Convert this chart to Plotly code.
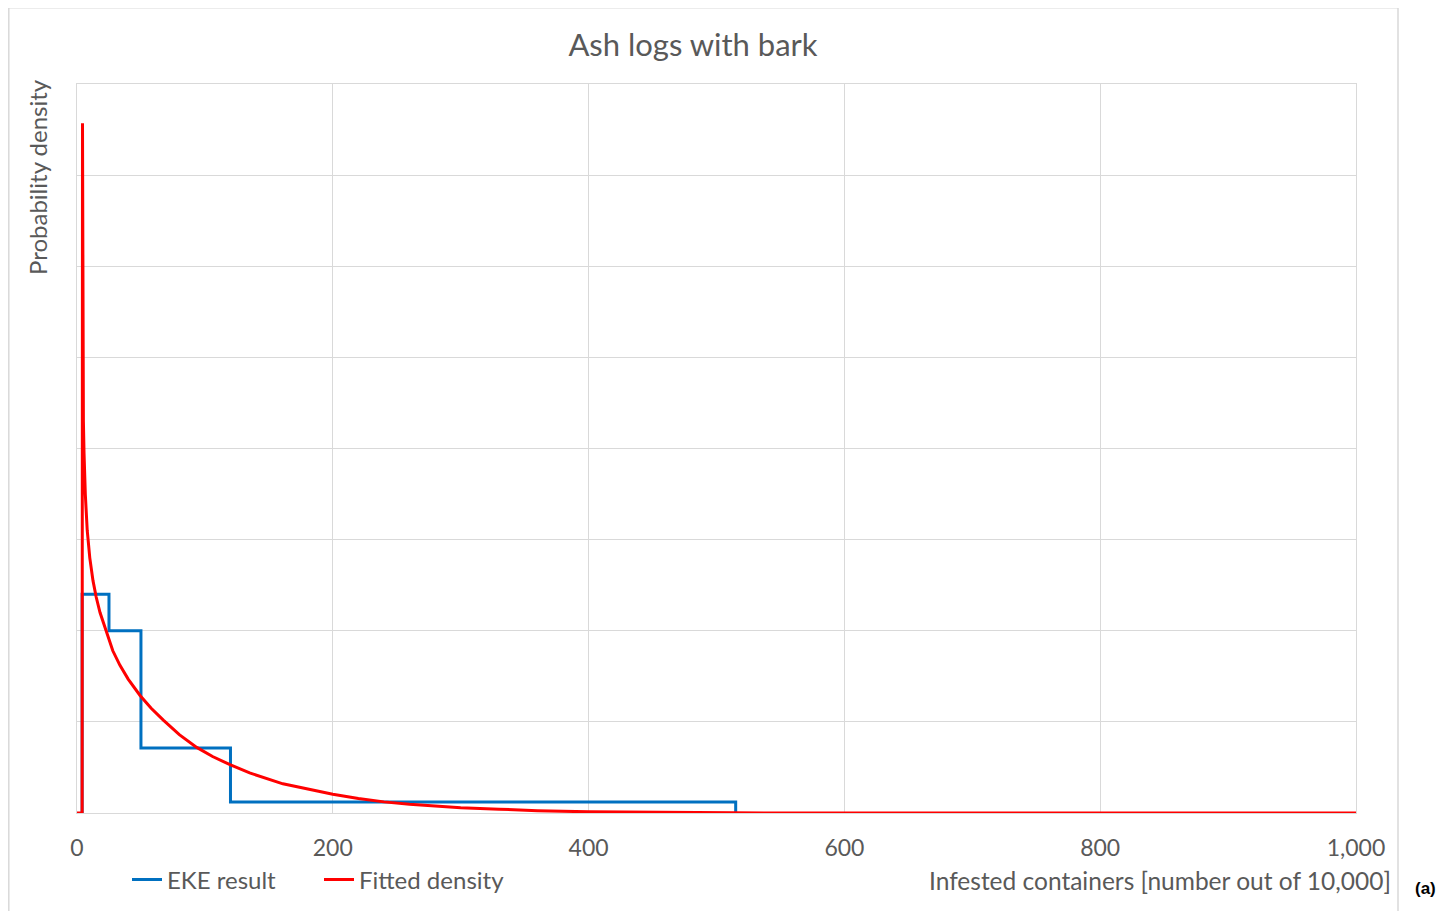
import plotly.graph_objects as go

# EKE result (step density from quartiles)
eke_x = [4, 4, 25, 25, 50, 50, 120, 120, 515, 515]
eke_y = [0, 2.40, 2.40, 2.00, 2.00, 0.713, 0.713, 0.121, 0.121, 0]

# Fitted density
fit_x = [0, 4.0, 4.3, 4.5, 4.7, 5.0, 5.5, 6.5, 8, 10, 12.5, 15, 18, 23, 28, 33.6, 40, 49.3,
         58, 67.5, 80, 93.6, 106, 119.6, 135, 161, 180, 200, 220, 240, 260, 280, 300, 330,
         360, 400, 450, 513, 560, 1000]
fit_y = [0, 0, 7.57, 6.0, 4.8, 4.3, 3.95, 3.5, 3.1, 2.8, 2.55, 2.37, 2.2, 1.98, 1.78, 1.62,
         1.47, 1.29, 1.15, 1.02, 0.86, 0.72, 0.62, 0.53, 0.44, 0.32, 0.26, 0.205, 0.16, 0.122,
         0.095, 0.075, 0.058, 0.042, 0.025, 0.013, 0.006, 0.002, 0.0, 0.0]

title_text = "Ash logs with bark"
x_title = "Infested containers [number out of 10,000]"
y_title = "Probability density"

OFF = 8  # page body margin
W, H = 1444 - OFF, 911 - OFF
# plot area in page pixels
L, R, T, B = 77, 1356, 84, 813
pw, ph = R - L, B - T

def px(xp):
    return (xp - L) / pw

def py(yp):
    return (B - yp) / ph

FONT = "Lato"
GRAY = "#595959"
GRID = "#D9D9D9"

fig = go.Figure()
fig.add_trace(go.Scatter(x=eke_x, y=eke_y, mode="lines", name="EKE result",
                         line=dict(color="#0070C0", width=3)))
fig.add_trace(go.Scatter(x=fit_x, y=fit_y, mode="lines", name="Fitted density",
                         line=dict(color="#FF0000", width=3)))

fig.update_layout(
    width=W, height=H,
    margin=dict(l=L - OFF, r=W - (R - OFF), t=T - OFF, b=H - (B - OFF), autoexpand=False),
    paper_bgcolor="white", plot_bgcolor="white",
    font=dict(family=FONT, color=GRAY, size=23),
    title=dict(text=title_text, xref="container", x=(693 - OFF) / W, xanchor="center",
               yref="container", y=1 - (45 - OFF) / H,
               yanchor="middle", font=dict(family=FONT, size=31, color=GRAY)),
    showlegend=True,
    legend=dict(orientation="h", x=px(127), xanchor="left", y=py(880), yanchor="middle",
                font=dict(family=FONT, size=24, color=GRAY), bgcolor="rgba(0,0,0,0)",
                entrywidth=147, entrywidthmode="pixels", tracegroupgap=0),
    xaxis=dict(range=[0, 1000], dtick=200, tickformat=",", showgrid=True, gridcolor=GRID,
               gridwidth=1, zeroline=False, showline=True, linecolor=GRID, mirror=True,
               ticks="", ticklabelstandoff=14,
               tickfont=dict(family=FONT, size=23, color=GRAY)),
    yaxis=dict(range=[0, 8], dtick=1, showgrid=True, gridcolor=GRID, gridwidth=1,
               zeroline=False, showline=True, linecolor=GRID, mirror=True,
               showticklabels=False, ticks=""),
    shapes=[dict(type="rect", xref="paper", yref="paper",
                 x0=px(8.8), x1=px(1398), y0=py(915), y1=py(7.8),
                 line=dict(color=GRID, width=1.5), fillcolor="rgba(0,0,0,0)", layer="below")],
    annotations=[
        dict(text=x_title, xref="paper", yref="paper", x=px(1393), xanchor="right",
             y=py(880), yanchor="middle", showarrow=False,
             font=dict(family=FONT, size=24.5, color=GRAY)),
        dict(text=y_title, xref="paper", yref="paper", x=px(37), xanchor="center",
             y=py(77), yanchor="top", showarrow=False, textangle=-90,
             font=dict(family=FONT, size=24, color=GRAY)),
        dict(text="<b>(a)</b>", xref="paper", yref="paper", x=px(1426), xanchor="center",
             y=py(888), yanchor="middle", showarrow=False,
             font=dict(family="Liberation Sans", size=17, color="black")),
    ],
)

fig.write_html("out.html")
